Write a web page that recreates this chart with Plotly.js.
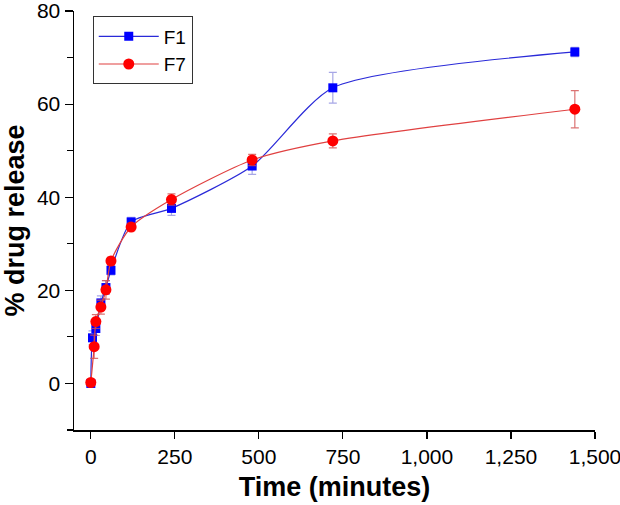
<!DOCTYPE html>
<html>
<head>
<meta charset="utf-8">
<script src="https://cdn.plot.ly/plotly-3.0.1.min.js"></script>
<style>html,body{margin:0;padding:0;background:#fff;}#chart{width:620px;height:505px;}</style>
</head>
<body>
<div id="chart"></div>
<script>
const timeF1 = [0, 5, 15, 30, 45, 60, 120, 240, 480, 720, 1440];
const releaseF1 = [0, 9.8, 11.8, 17.3, 20.6, 24.3, 34.7, 37.6, 46.7, 63.5, 71.2];
const errF1 = [0.3, 1.5, 1.5, 1.5, 1.5, 1.0, 1.0, 1.5, 1.8, 3.3, 1.0];

const timeF7 = [0, 10, 15, 30, 45, 60, 120, 240, 480, 720, 1440];
const releaseF7 = [0.2, 7.9, 13.3, 16.4, 20.1, 26.3, 33.6, 39.5, 48.0, 52.1, 58.9];
const errF7 = [0.3, 2.5, 1.5, 1.5, 2.0, 0.8, 0.8, 1.2, 1.2, 1.5, 4.0];

const xTicks = [0, 250, 500, 750, 1000, 1250, 1500];
const yTicks = [0, 20, 40, 60, 80];

const font = "Arial, 'Liberation Sans', sans-serif";

const traces = [
  {
    x: timeF1, y: releaseF1, name: 'F1', type: 'scatter', mode: 'lines+markers',
    line: {color: '#2a2ad8', width: 1.2, shape: 'spline', smoothing: 0.65},
    marker: {symbol: 'square', size: 9, color: '#0000ff'},
    error_y: {type: 'data', array: errF1, visible: true, color: 'rgba(130,130,220,0.7)', thickness: 1.2, width: 4}
  },
  {
    x: timeF7, y: releaseF7, name: 'F7', type: 'scatter', mode: 'lines+markers',
    line: {color: '#e04040', width: 1.2, shape: 'spline', smoothing: 0.7},
    marker: {symbol: 'circle', size: 11, color: '#ff0000'},
    error_y: {type: 'data', array: errF7, visible: true, color: 'rgba(210,80,80,0.8)', thickness: 1.2, width: 4}
  }
];

const layout = {
  width: 620, height: 505,
  margin: {l: 74, r: 25, t: 11, b: 75},
  paper_bgcolor: '#fff', plot_bgcolor: '#fff',
  font: {family: font, color: '#000', size: 21},
  showlegend: true,
  legend: {
    x: 0.036, y: 0.987, xanchor: 'left', yanchor: 'top',
    bordercolor: '#333', borderwidth: 1, bgcolor: '#fff',
    font: {family: font, size: 19, color: '#000'},
    itemwidth: 60, tracegroupgap: 0
  },
  xaxis: {
    range: [-50, 1500], tickvals: xTicks, tickformat: ',d', ticklabeloverflow: 'allow',
    showgrid: false, zeroline: false, showline: true, linecolor: '#000', linewidth: 1.5,
    ticks: 'outside', ticklen: 7, tickwidth: 1.2, tickcolor: '#000',
    tickfont: {family: font, size: 21, color: '#000'},
    title: {text: 'Time (minutes)', font: {family: font, size: 27, color: '#000', weight: 'bold'}, standoff: 10}
  },
  yaxis: {
    range: [-10, 80], tickvals: yTicks, ticklabeloverflow: 'allow',
    showgrid: false, zeroline: false, showline: true, linecolor: '#000', linewidth: 1.5,
    ticks: 'outside', ticklen: 8, tickwidth: 1.2, tickcolor: '#000',
    tickfont: {family: font, size: 21, color: '#000'},
    minor: {tickvals: [-10, 10, 30, 50, 70], ticks: 'outside', ticklen: 6, tickwidth: 1.2, tickcolor: '#000', showgrid: false},
    title: {text: '% drug release', font: {family: font, size: 27, color: '#000', weight: 'bold'}, standoff: 6}
  }
};

Plotly.newPlot('chart', traces, layout, {displayModeBar: false, staticPlot: true});
</script>
</body>
</html>
